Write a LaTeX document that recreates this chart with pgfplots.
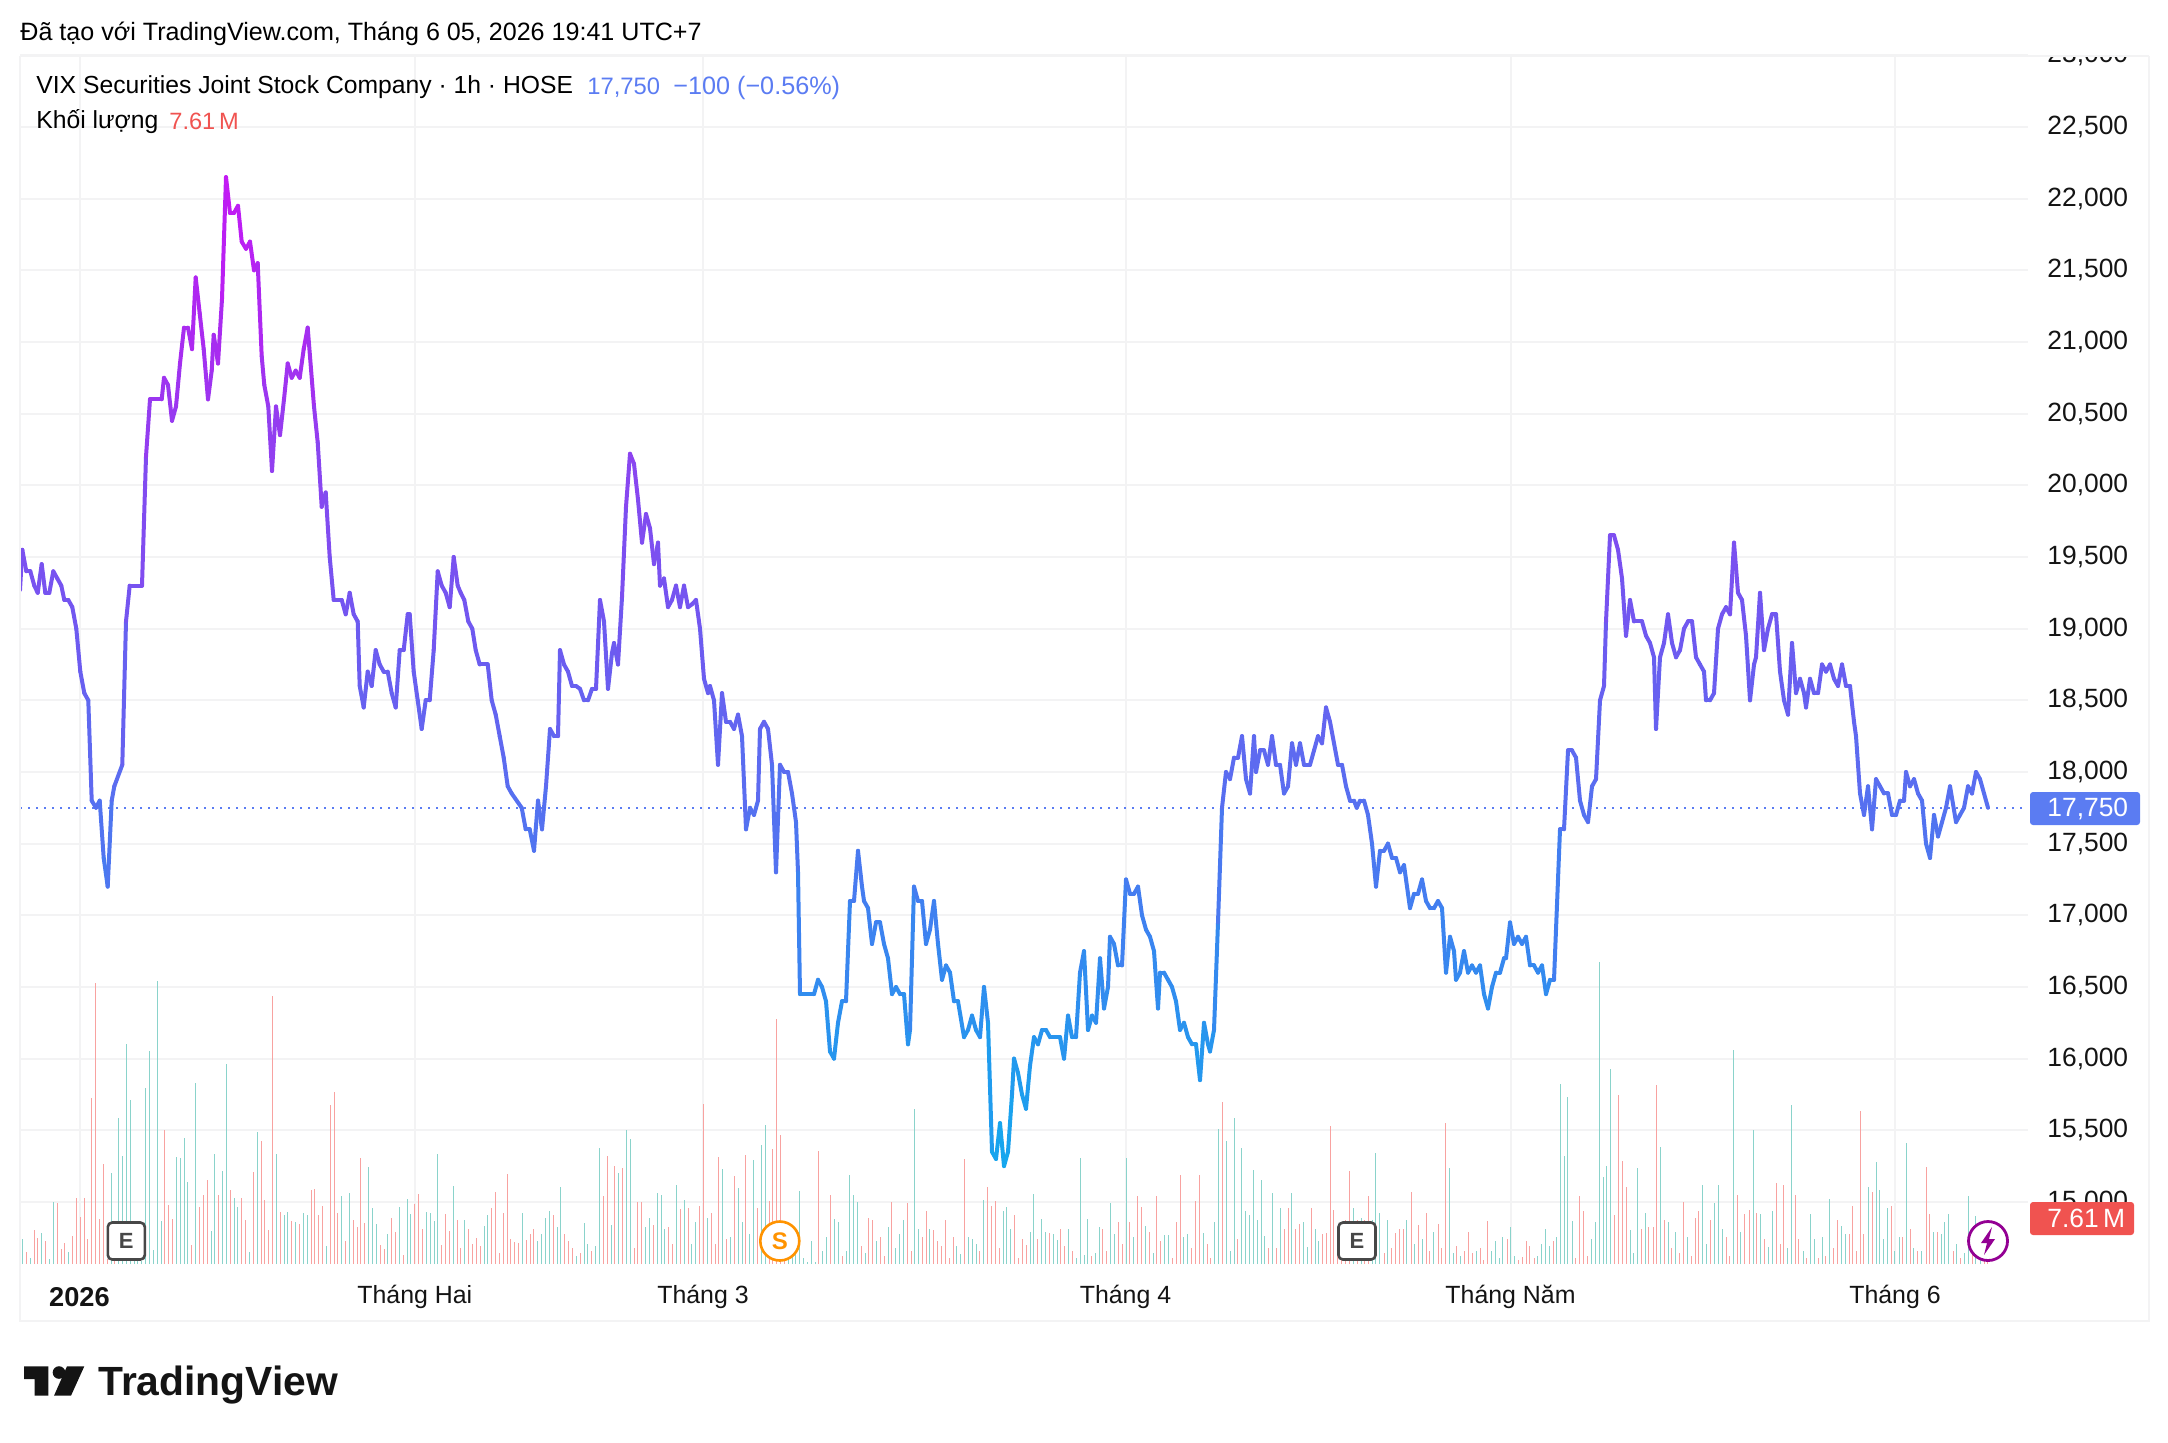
\documentclass[border=0pt]{standalone}
\usepackage{fontspec}
\setmainfont{Liberation Sans}
\usepackage{pgfplots}
\usepackage{pgfplotstable}
\pgfplotsset{compat=1.18}
\definecolor{gridc}{HTML}{F3F3F4}
\definecolor{tvblue}{HTML}{5B7CF2}
\definecolor{tvred}{HTML}{F05350}
\definecolor{volT}{HTML}{8AD3CB}
\definecolor{volR}{HTML}{F8A2A0}
\pgfplotstableread{
x p
20 19270
22.3 19550
26.3 19400
30.3 19400
34.3 19300
37.7 19250
41.7 19450
45.3 19250
49.3 19250
53.3 19400
57.3 19350
61.3 19300
64.3 19200
68.3 19200
72.3 19150
76.3 19000
80.3 18700
84.3 18550
88.3 18500
91.7 17800
96 17750
99.7 17800
103.7 17400
107.7 17200
111.7 17800
114.3 17900
122.3 18050
126 19050
129.7 19300
142 19300
146 20200
150 20600
161.7 20600
164 20750
168 20700
172 20450
176 20550
180 20850
184 21100
188 21100
192 20950
195.7 21450
199.7 21200
203.7 20950
208 20600
211.7 20800
213.7 21050
218 20850
222 21300
226 22150
230 21900
234 21900
238 21950
241.7 21700
246 21650
250 21700
254 21500
257.7 21550
261.7 20900
264.3 20700
268.3 20550
272 20100
276 20550
280 20350
284 20600
287.7 20850
291.7 20750
295.7 20800
299.7 20750
303.7 20950
307.7 21100
314 20550
317.7 20300
321.7 19850
325.7 19950
329.7 19500
333.7 19200
341.7 19200
345.7 19100
349.7 19250
353.7 19100
357.7 19050
359.7 18600
363.7 18450
367.7 18700
371.7 18600
375.7 18850
379.7 18750
383.7 18700
387.7 18700
391.7 18550
395.7 18450
399.7 18850
403.7 18850
407.7 19100
409.7 19100
413.7 18700
417.7 18500
421.7 18300
425.7 18500
429.7 18500
433.7 18850
437.7 19400
441.7 19300
445.7 19250
449.7 19150
453.7 19500
457.7 19300
460.7 19250
464.3 19200
468.3 19050
472.3 19000
475.7 18850
479.7 18750
487.7 18750
491.7 18500
495.7 18400
499.7 18250
503.7 18100
507.7 17900
511.7 17850
521.7 17750
525.7 17600
529.7 17600
534 17450
538 17800
542 17600
546 17900
550 18300
554 18250
558 18250
560 18850
564 18750
568 18700
572 18600
576 18600
580 18580
584 18500
588 18500
592 18580
596 18580
600 19200
604 19050
608 18580
612 18830
614 18900
618 18750
622 19220
626 19850
630 20220
634 20150
638 19900
642 19600
646 19800
650 19700
654 19450
658 19600
660 19300
664 19350
668 19150
672 19200
676 19300
680 19150
684 19300
688 19150
692 19170
696 19200
700 19000
704 18650
708 18550
710 18600
714 18500
718 18050
722 18550
726 18350
730 18350
734 18300
738 18400
742 18250
746 17600
750 17750
754 17700
758 17800
760 18300
764 18350
768 18300
772 18050
776 17300
780 18050
784 18000
788 18000
792 17850
796 17650
798 17300
800 16450
814 16450
818 16550
822 16500
826 16400
830 16050
834 16000
838 16250
842 16400
846 16400
850 17100
854 17100
858 17450
862 17200
864 17100
868 17050
872 16800
876 16950
880 16950
884 16800
888 16700
892 16450
896 16500
900 16450
904 16450
908 16100
910 16200
914 17200
918 17100
922 17100
926 16800
930 16900
934 17100
938 16800
942 16550
946 16650
950 16600
954 16400
958 16400
964 16150
968 16200
972 16300
976 16200
980 16150
984 16500
988 16250
992 15350
996 15300
1000 15550
1004 15250
1008 15350
1012 15750
1014 16000
1018 15900
1022 15750
1026 15650
1030 15950
1034 16150
1038 16100
1042 16200
1046 16200
1050 16150
1060 16150
1064 16000
1068 16300
1072 16150
1076 16150
1080 16600
1084 16750
1088 16200
1092 16300
1096 16250
1100 16700
1104 16350
1108 16500
1110 16850
1114 16800
1118 16650
1122 16650
1126 17250
1130 17150
1134 17150
1138 17200
1142 17000
1146 16900
1150 16850
1154 16750
1158 16350
1160 16600
1164 16600
1168 16550
1172 16500
1176 16400
1180 16200
1184 16250
1188 16150
1192 16100
1196 16100
1200 15850
1204 16250
1208 16100
1210 16050
1214 16200
1218 16950
1222 17750
1226 18000
1230 17950
1234 18100
1238 18100
1242 18250
1246 17950
1250 17850
1254 18250
1256 18000
1260 18150
1264 18150
1268 18050
1272 18250
1276 18050
1280 18050
1284 17850
1288 17900
1292 18200
1296 18050
1300 18200
1304 18050
1310 18050
1314 18150
1318 18250
1322 18200
1326 18450
1330 18350
1334 18200
1338 18050
1342 18050
1346 17900
1350 17800
1354 17800
1356.7 17750
1360 17800
1364 17800
1368 17700
1372 17500
1376 17200
1380 17450
1384 17450
1388 17500
1392 17400
1396 17400
1400 17300
1404 17350
1408 17150
1410 17050
1414 17150
1418 17150
1422 17250
1426 17100
1430 17050
1434 17050
1438 17100
1442 17050
1446 16600
1450 16850
1454 16750
1456 16550
1460 16600
1464 16750
1468 16600
1472 16650
1476 16600
1480 16650
1484 16450
1488 16350
1492 16500
1496 16600
1500 16600
1504 16700
1506 16700
1510 16950
1514 16800
1518 16850
1522 16800
1526 16850
1530 16650
1534 16650
1538 16600
1542 16650
1546 16450
1550 16550
1554 16550
1560 17600
1564 17600
1568 18150
1572 18150
1576 18100
1580 17800
1584 17700
1588 17650
1592 17900
1596 17950
1600 18500
1604 18600
1606 19050
1610 19650
1614 19650
1618 19550
1622 19350
1626 18950
1630 19200
1634 19050
1642 19050
1646 18950
1650 18900
1654 18800
1656 18300
1660 18800
1664 18900
1668 19100
1672 18900
1676 18800
1680 18850
1684 19000
1688 19050
1692 19050
1696 18800
1700 18750
1704 18700
1706 18500
1710 18500
1714 18550
1718 19000
1722 19100
1726 19150
1730 19100
1734 19600
1738 19250
1742 19200
1746 18950
1750 18500
1754 18750
1756 18800
1760 19250
1764 18850
1768 19000
1772 19100
1776 19100
1780 18700
1784 18500
1788 18400
1792 18900
1796 18550
1800 18650
1804 18550
1806 18450
1810 18650
1814 18550
1818 18550
1822 18750
1826 18700
1830 18750
1834 18650
1838 18600
1842 18750
1846 18600
1850 18600
1854 18350
1856 18250
1860 17850
1864 17700
1868 17900
1872 17600
1876 17950
1880 17900
1884 17850
1888 17850
1892 17700
1896 17700
1900 17800
1904 17800
1906 18000
1910 17900
1914 17950
1918 17850
1922 17800
1926 17500
1930 17400
1934 17700
1938 17550
1942 17650
1946 17750
1950 17900
1956 17650
1960 17700
1964 17750
1968 17900
1972 17850
1976 18000
1980 17950
1988 17750
}\linedata
\pgfplotstableread{
x t r
22.3 5.3 nan
26.3 nan 2.5
30.3 1.3 nan
34.3 nan 7.2
37.7 nan 5.5
41.7 6.5 nan
45.3 nan 4.9
49.3 1.1 nan
53.3 13.1 nan
57.3 nan 12.9
61.3 nan 3.2
64.3 nan 4.4
68.3 2.5 nan
72.3 nan 5.9
76.3 nan 13.9
80.3 nan 9.9
84.3 nan 13.9
87.3 nan 5.3
91.3 nan 35.1
95.3 nan 59.3
99.3 nan 9.5
103.3 nan 21.1
107.3 nan 1.1
111.3 19.2 nan
114.3 nan 0.7
118.3 30.8 nan
122.3 22.8 nan
126.3 46.5 nan
130.3 34.6 nan
134.3 0.7 nan
137.3 0.7 nan
141.3 0.7 nan
145.3 37.2 nan
149.3 45.0 nan
153.3 3.0 nan
157.3 59.8 nan
161.3 9.1 nan
164.3 nan 28.3
168.3 nan 12.5
172.3 nan 9.5
176.3 22.6 nan
180.3 22.4 nan
184.3 26.6 nan
187.3 17.3 nan
191.3 nan 4.0
195.3 38.2 nan
199.3 nan 12.0
203.3 nan 14.6
207.3 nan 17.7
211.3 7.0 nan
214.3 23.2 nan
218.3 nan 14.6
222.3 19.6 nan
226.3 42.2 nan
230.3 nan 15.6
234.3 13.9 nan
237.3 12.0 nan
241.3 nan 13.9
245.3 nan 9.3
249.3 2.5 nan
253.3 nan 19.4
257.3 27.9 nan
261.3 nan 26.0
264.3 nan 13.5
268.3 nan 7.2
272.3 nan 56.6
276.3 23.2 nan
280.3 nan 11.0
284.3 10.3 nan
287.3 11.0 nan
291.3 nan 9.1
295.3 8.9 nan
299.3 nan 8.4
303.3 10.8 nan
307.3 10.3 nan
311.3 nan 15.6
314.3 nan 15.8
318.3 nan 10.3
322.3 nan 12.2
326.3 3.8 nan
330.3 nan 33.6
334.3 nan 36.3
337.3 nan 10.8
341.3 14.4 nan
345.3 nan 4.9
349.3 15.0 nan
353.3 nan 9.3
357.3 nan 7.8
360.3 nan 22.4
364.3 nan 8.7
368.3 20.5 nan
372.3 11.8 nan
376.3 8.4 nan
380.3 nan 4.0
384.3 nan 3.2
387.3 6.3 nan
391.3 nan 9.7
395.3 nan 6.8
399.3 12.0 nan
403.3 nan 1.9
407.3 13.7 nan
410.3 10.6 nan
414.3 nan 12.7
418.3 nan 14.8
422.3 nan 7.4
426.3 11.0 nan
430.3 10.8 nan
434.3 9.1 nan
437.3 23.2 nan
441.3 nan 4.0
445.3 nan 10.6
449.3 nan 7.0
453.3 16.5 nan
457.3 nan 9.3
460.3 nan 3.4
464.3 9.3 nan
468.3 nan 7.4
472.3 nan 4.2
476.3 nan 5.5
480.3 nan 3.8
484.3 8.0 nan
487.3 10.3 nan
491.3 nan 11.8
495.3 nan 15.2
499.3 nan 2.3
503.3 nan 10.8
507.3 nan 19.0
510.3 nan 5.3
514.3 nan 4.6
518.3 nan 4.4
522.3 10.8 nan
526.2 nan 5.0
530.0 nan 6.3
533.9 nan 7.3
537.7 4.8 nan
541.6 6.3 nan
545.4 9.8 nan
549.3 11.1 nan
553.1 nan 10.3
557.0 7.8 nan
560.9 16.3 nan
564.7 nan 6.3
568.6 nan 4.8
572.4 nan 3.3
576.3 1.8 nan
580.1 nan 2.3
584.0 8.6 nan
587.8 4.3 nan
591.7 nan 2.8
595.5 3.8 nan
599.4 24.6 nan
603.3 nan 14.3
607.1 nan 22.8
611.0 8.3 nan
614.8 nan 20.8
618.7 19.3 nan
622.5 nan 20.3
626.4 28.3 nan
630.2 26.5 nan
634.1 nan 3.3
637.9 nan 13.1
641.8 nan 13.1
645.7 7.8 nan
649.5 9.8 nan
653.4 nan 8.3
657.2 15.1 nan
661.1 14.5 nan
664.9 7.3 nan
668.8 nan 7.8
672.6 nan 4.3
676.5 16.8 nan
680.4 nan 11.6
684.2 13.5 nan
688.1 nan 11.8
691.9 4.3 nan
695.8 8.8 nan
699.6 nan 12.3
703.5 nan 33.8
707.3 9.8 nan
711.2 nan 10.8
715.0 nan 4.3
718.9 nan 22.6
722.8 20.0 nan
726.6 nan 5.3
730.5 5.8 nan
734.3 nan 18.5
738.2 16.0 nan
742.0 8.8 nan
745.9 nan 23.1
749.7 6.3 nan
753.6 21.9 nan
757.4 nan 11.8
761.3 25.1 nan
765.2 29.3 nan
769.0 nan 13.3
772.9 nan 24.3
776.7 nan 51.7
780.6 nan 27.3
784.4 nan 3.0
788.3 4.0 nan
792.1 3.0 nan
795.9 2.8 nan
799.8 15.5 nan
803.7 1.3 nan
807.5 0.5 nan
811.4 4.8 nan
815.2 0.5 nan
818.9 nan 23.8
822.8 2.8 nan
826.6 5.8 nan
830.5 nan 14.5
834.4 9.5 nan
838.3 8.8 nan
842.1 nan 1.8
846.0 2.8 nan
849.5 18.8 nan
853.4 14.5 nan
857.3 13.1 nan
861.1 nan 3.8
865.0 2.3 nan
868.8 nan 9.8
872.7 nan 9.3
876.5 4.8 nan
880.4 nan 5.8
884.2 nan 1.8
888.1 7.8 nan
891.9 nan 13.1
895.8 3.3 nan
899.7 6.3 nan
903.5 9.3 nan
907.4 nan 12.8
911.2 nan 2.8
914.5 32.8 nan
918.4 7.3 nan
922.2 nan 5.8
926.1 nan 11.3
929.9 7.3 nan
933.8 nan 7.1
937.6 nan 4.8
941.5 nan 3.8
945.3 nan 9.3
949.2 nan 1.3
953.1 nan 5.8
956.9 3.8 nan
960.7 2.1 nan
964.4 nan 22.1
968.3 5.8 nan
972.1 5.3 nan
976.0 4.3 nan
979.9 nan 2.8
983.7 13.5 nan
987.6 nan 16.3
991.4 nan 12.3
995.3 nan 13.3
999.1 nan 3.3
1003.0 11.3 nan
1006.8 12.1 nan
1010.7 7.5 nan
1014.6 nan 10.3
1018.4 nan 1.3
1022.3 nan 5.3
1026.1 nan 4.1
1030.0 6.8 nan
1033.8 14.8 nan
1037.7 nan 5.3
1041.5 9.6 nan
1045.4 6.8 nan
1049.3 nan 6.5
1053.1 6.3 nan
1057.0 5.1 nan
1060.8 nan 7.3
1064.7 nan 3.8
1068.5 7.3 nan
1072.4 nan 2.8
1076.2 1.3 nan
1080.3 22.3 nan
1084.2 2.0 nan
1087.5 9.5 nan
1091.4 nan 1.8
1095.2 2.3 nan
1099.1 7.8 nan
1102.9 nan 7.3
1106.8 nan 2.8
1110.6 12.8 nan
1114.5 6.3 nan
1118.3 nan 8.8
1122.2 nan 4.3
1126.0 22.5 nan
1129.9 nan 8.8
1133.8 5.8 nan
1137.6 nan 14.3
1141.5 nan 12.1
1145.3 8.1 nan
1149.2 nan 6.8
1153.0 2.3 nan
1156.9 nan 14.3
1160.7 nan 4.8
1164.6 6.1 nan
1168.5 6.1 nan
1172.3 nan 1.3
1176.2 nan 8.8
1180.0 nan 18.8
1183.9 5.8 nan
1187.7 6.3 nan
1191.6 nan 3.3
1195.4 nan 13.3
1199.3 nan 18.8
1203.2 6.5 nan
1207.0 nan 4.3
1210.9 nan 1.3
1214.7 8.8 nan
1218.6 28.5 nan
1222.4 nan 34.3
1226.3 26.0 nan
1230.1 2.8 nan
1234.0 30.8 nan
1237.9 nan 5.3
1241.7 24.6 nan
1245.6 11.3 nan
1249.4 10.3 nan
1253.3 19.8 nan
1257.1 9.3 nan
1261.0 17.8 nan
1264.8 6.0 nan
1268.7 nan 3.3
1272.6 15.1 nan
1276.4 nan 3.3
1280.3 11.8 nan
1284.1 nan 7.3
1288.0 nan 11.8
1291.8 15.1 nan
1295.7 nan 7.3
1299.5 nan 8.5
1303.4 8.8 nan
1307.2 3.5 nan
1311.1 nan 11.8
1315.0 7.3 nan
1318.8 4.8 nan
1322.7 nan 6.3
1326.5 nan 6.5
1330.1 nan 29.1
1333.6 nan 11.5
1337.7 nan 7.3
1341.2 nan 4.3
1345.3 nan 9.3
1349.5 nan 19.6
1353.6 11.8 nan
1357.1 nan 9.3
1361.2 9.8 nan
1364.7 nan 9.3
1368.8 nan 14.3
1372.3 9.3 nan
1375.7 23.5 nan
1379.9 10.8 nan
1384.0 nan 2.3
1387.5 9.3 nan
1391.6 nan 3.3
1395.1 nan 6.5
1399.2 nan 7.5
1403.4 nan 7.3
1406.8 9.3 nan
1411.0 nan 15.3
1414.5 4.3 nan
1418.6 nan 8.3
1422.1 5.3 nan
1426.2 nan 10.8
1429.7 nan 2.8
1433.8 6.8 nan
1438.0 nan 8.5
1441.4 nan 3.3
1445.6 nan 29.8
1449.0 20.3 nan
1453.2 2.3 nan
1456.6 nan 3.8
1460.8 1.8 nan
1464.2 nan 2.8
1468.4 nan 6.8
1472.5 nan 2.3
1476.0 2.8 nan
1480.1 nan 3.3
1483.6 nan 0.8
1487.7 nan 9.0
1491.9 2.8 nan
1495.3 4.8 nan
1499.5 1.3 nan
1502.9 5.8 nan
1507.1 nan 5.3
1510.5 7.8 nan
1514.7 1.8 nan
1518.1 nan 0.8
1522.3 nan 1.5
1526.4 nan 4.8
1529.9 nan 3.8
1534.0 nan 1.3
1537.5 1.8 nan
1541.7 4.3 nan
1545.8 7.5 nan
1549.3 3.8 nan
1553.4 nan 4.8
1556.9 5.8 nan
1560.3 38.1 nan
1564.5 22.8 nan
1567.9 35.3 nan
1572.1 9.1 nan
1575.5 nan 1.3
1579.7 nan 14.3
1583.8 nan 11.3
1587.3 nan 1.8
1591.4 5.3 nan
1595.6 8.8 nan
1599.0 63.8 nan
1603.2 18.3 nan
1606.6 20.8 nan
1610.1 41.3 nan
1614.2 nan 10.3
1618.4 nan 35.8
1622.5 nan 21.8
1626.0 nan 16.3
1630.1 7.1 nan
1633.6 2.3 nan
1637.1 20.3 nan
1641.2 nan 7.3
1645.4 10.8 nan
1648.8 nan 7.8
1653.0 nan 7.8
1656.4 nan 37.8
1660.6 24.8 nan
1664.0 nan 9.3
1668.2 8.8 nan
1671.6 nan 3.3
1675.8 6.8 nan
1679.2 nan 2.3
1683.4 nan 13.1
1687.5 5.8 nan
1691.0 nan 1.8
1695.1 nan 9.8
1698.6 nan 11.3
1702.7 16.6 nan
1706.2 4.3 nan
1710.3 nan 9.3
1714.5 12.8 nan
1718.6 16.6 nan
1722.1 7.3 nan
1726.2 nan 5.8
1729.7 nan 1.8
1733.2 45.3 nan
1737.3 nan 14.5
1740.8 6.8 nan
1744.9 nan 10.5
1749.0 nan 11.5
1753.2 28.3 nan
1756.6 nan 10.8
1760.8 10.5 nan
1764.3 nan 5.3
1768.4 3.5 nan
1772.6 11.1 nan
1776.0 nan 17.1
1780.2 nan 4.3
1783.6 nan 16.8
1787.8 3.3 nan
1791.2 33.6 nan
1795.4 nan 14.5
1798.8 nan 5.3
1803.0 2.8 nan
1806.4 nan 1.3
1810.6 10.5 nan
1814.0 5.3 nan
1818.2 nan 1.3
1822.3 5.8 nan
1825.8 nan 1.8
1829.9 13.8 nan
1833.4 nan 3.3
1837.5 nan 9.3
1841.7 8.1 nan
1845.1 6.3 nan
1849.3 nan 6.3
1852.8 nan 12.3
1856.9 nan 2.8
1860.4 nan 32.3
1863.8 nan 6.3
1868.0 16.3 nan
1872.1 nan 15.3
1876.2 21.5 nan
1879.7 15.6 nan
1883.9 5.3 nan
1887.3 11.8 nan
1891.5 nan 12.3
1894.9 2.8 nan
1899.1 5.8 nan
1902.5 nan 5.8
1906.0 25.6 nan
1910.1 nan 7.3
1913.6 3.3 nan
1917.7 nan 2.8
1921.9 2.8 nan
1926.0 nan 20.6
1929.5 nan 10.5
1933.6 6.8 nan
1937.1 nan 6.8
1941.2 6.3 nan
1944.7 8.8 nan
1948.8 10.5 nan
1953.0 nan 2.8
1956.5 4.3 nan
1960.6 nan 1.3
1964.0 2.3 nan
1968.2 14.3 nan
1972.3 nan 2.3
1975.8 10.1 nan
1980.0 1.3 nan
1984.1 nan 0.8
1987.6 nan 7.61
}\voldata
\begin{document}
\begin{tikzpicture}
\begin{scope}[x=0.5pt,y=-0.5pt]
\path[use as bounding box] (0,0) rectangle (2168,1442);
\end{scope}
% grid, price scale, time scale, last-price line
\begin{axis}[
  at={(10pt,-632pt)},anchor=south west,scale only axis,
  width=1004pt,height=604.35pt,
  xmin=20,xmax=2028,ymin=14567,ymax=23000,
  axis line style={draw=none},
  major tick length=0pt,
  grid=major,grid style={gridc,line width=1pt},
  xtick={79.5,414.8,703,1125.5,1510.5,1895},
  xticklabels={{\fontsize{13.6pt}{15pt}\selectfont\textbf{2026}},Tháng Hai,Tháng 3,Tháng 4,Tháng Năm,Tháng 6},
  xticklabel style={font=\fontsize{12.45pt}{15pt}\selectfont,text=black!92,inner sep=0pt,anchor=center,yshift=-16.4pt},
  ytick={15000,15500,...,23000},
  scaled y ticks=false,
  yticklabel pos=right,
  yticklabel style={font=\fontsize{13.2pt}{15pt}\selectfont,text=black!92,inner sep=0pt,anchor=west,xshift=9.5pt,
    /pgf/number format/.cd,assume math mode=true,fixed,precision=0,1000 sep={,}},
]
\addplot[tvblue,line width=1pt,dash pattern=on 1pt off 3pt,no markers] coordinates {(20,17750) (2028,17750)};
\end{axis}
% volume pane
\begin{axis}[
  at={(10pt,-632pt)},anchor=south west,scale only axis,
  width=1004pt,height=604.35pt,
  xmin=20,xmax=2028,ymin=0,ymax=255.4,
  hide axis,unbounded coords=discard,
]
\addplot[ycomb,volT,line width=0.5pt,no markers] table[x=x,y=t] {\voldata};
\addplot[ycomb,volR,line width=0.5pt,no markers] table[x=x,y=r] {\voldata};
\end{axis}
% price line
\begin{axis}[
  at={(10pt,-632pt)},anchor=south west,scale only axis,
  width=1004pt,height=604.35pt,
  xmin=20,xmax=2028,ymin=14567,ymax=23000,
  hide axis,
  point meta min=15250,point meta max=22150,
  colormap={tv}{rgb255(0cm)=(20,168,238) rgb255(0.75cm)=(36,152,238) rgb255(1.75cm)=(64,128,240) rgb255(2.75cm)=(92,108,240) rgb255(3.75cm)=(112,88,240) rgb255(4.75cm)=(135,72,240) rgb255(5.75cm)=(168,44,240) rgb255(6.9cm)=(198,24,245)},
]
\addplot[mesh,point meta=y,line width=2pt,line cap=round,line join=round,no markers] table[x=x,y=p] {\linedata};
\end{axis}
% furniture in picture pixels
\begin{scope}[x=0.5pt,y=-0.5pt]
\fill[white] (2030,20) rectangle (2147,55);
\draw[gridc,line width=1.2pt] (20,56)--(2149,56);
\draw[gridc,line width=0.8pt] (20,56)--(20,1321)--(2149,1321)--(2149,56);
\node[anchor=west,inner sep=0pt,font=\fontsize{12.55pt}{15pt}\selectfont] at (20,33.5) {Đã tạo với TradingView.com, Tháng 6 05, 2026 19:41 UTC+7};
\node[anchor=west,inner sep=0pt,font=\fontsize{12.35pt}{15pt}\selectfont] at (36,87.5) {VIX Securities Joint Stock Company · 1h · HOSE};
\node[anchor=west,inner sep=0pt,text=tvblue,font=\fontsize{11.9pt}{15pt}\selectfont] at (587,87.5) {17,750};
\node[anchor=west,inner sep=0pt,text=tvblue,font=\fontsize{12.6pt}{15pt}\selectfont] at (673,87.5) {−100 (−0.56\%)};
\node[anchor=west,inner sep=0pt,font=\fontsize{12.35pt}{15pt}\selectfont] at (36,122) {Khối lượng};
\node[anchor=west,inner sep=0pt,text=tvred,font=\fontsize{11.8pt}{15pt}\selectfont] at (169,121) {7.61\,M};
% last price tags
\fill[tvblue,rounded corners=1.5pt] (2030,792) rectangle (2140,825);
\node[anchor=west,inner sep=0pt,text=white,font=\fontsize{13.2pt}{15pt}\selectfont] at (2047,808.5) {17,750};
\fill[tvred,rounded corners=1.5pt] (2030,1202) rectangle (2134,1235);
\node[anchor=west,inner sep=0pt,text=white,font=\fontsize{13.2pt}{15pt}\selectfont] at (2047,1218.5) {7.61\,M};
% event markers
\foreach \x in {126.3,1357}{
  \draw[fill=white,draw=black!72,line width=1.3pt,rounded corners=2.2pt] (\x-18.5,1222.5) rectangle (\x+18.5,1259.5);
  \node[text=black!72,inner sep=0pt,font=\fontsize{11pt}{13pt}\selectfont\bfseries] at (\x,1241) {E};
}
\draw[fill=white,draw=orange!85!yellow,line width=1.3pt] (779.8,1241) circle[radius=19.5];
\node[text=orange!85!yellow,inner sep=0pt,font=\fontsize{12pt}{13pt}\selectfont\bfseries] at (779.8,1241) {S};
\draw[fill=white,draw=violet!85!magenta,line width=1.4pt] (1988,1241) circle[radius=19.5];
\fill[violet!85!magenta] (1992,1227)--(1981,1243)--(1987,1243)--(1984,1255)--(1995,1239)--(1989,1239)--cycle;
% logo
\fill[black!92] (24.2,1366.3)--(48.4,1366.3)--(48.4,1395.7)--(34.5,1395.7)--(34.5,1379)--(24.2,1379)--cycle;
\fill[black!92] (59,1372.5) circle[radius=6.3];
\fill[black!92] (84.3,1366.3)--(71,1395.7)--(54,1395.7)--(67,1366.3)--cycle;
\node[anchor=west,inner sep=0pt,text=black!92,font=\fontsize{20.4pt}{24pt}\selectfont\bfseries] at (98,1385.5) {TradingView};
\end{scope}
\end{tikzpicture}
\end{document}
